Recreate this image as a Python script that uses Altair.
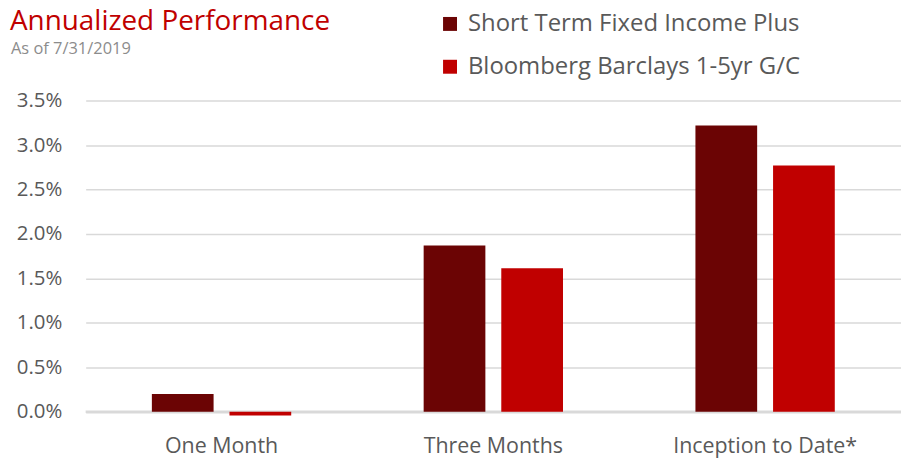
import altair as alt
import pandas as pd

categories = ["One Month", "Three Months", "Inception to Date*"]
series = ["Short Term Fixed Income Plus", "Bloomberg Barclays 1-5yr G/C"]
fund_values = [0.20, 1.87, 3.22]
bench_values = [-0.04, 1.615, 2.77]
colors = ["#6B0404", "#C00000"]
y_ticks = [0, 0.5, 1.0, 1.5, 2.0, 2.5, 3.0, 3.5]
title_text = "Annualized Performance"
subtitle_text = "As of 7/31/2019"

rows = []
for c, f, b in zip(categories, fund_values, bench_values):
    rows.append({"category": c, "series": series[0], "value": f / 100})
    rows.append({"category": c, "series": series[1], "value": b / 100})
df = pd.DataFrame(rows)

FONT = "Open Sans"
GRAY = "#595959"

base = alt.Chart(df)

bars = base.mark_bar().encode(
    x=alt.X("category:N", sort=categories, title=None,
            scale=alt.Scale(paddingInner=0, paddingOuter=0),
            axis=alt.Axis(domain=False, ticks=False, labelAngle=0, labelFontSize=21.5,
                          labelColor=GRAY, labelFont=FONT, labelPadding=18, labelLimit=400)),
    xOffset=alt.XOffset("series:N", sort=series,
                        scale=alt.Scale(paddingInner=0.205, paddingOuter=0.853)),
    y=alt.Y("value:Q", title=None,
            scale=alt.Scale(domain=[-0.0006, 0.035], nice=False, zero=False),
            axis=alt.Axis(values=[v / 100 for v in y_ticks], format=".1%", domain=False,
                          ticks=False, labelFontSize=20.5, labelColor=GRAY, labelFont=FONT,
                          labelPadding=24, gridColor="#D9D9D9", gridWidth=1.5)),
    color=alt.Color("series:N", sort=series,
                    scale=alt.Scale(domain=series, range=colors),
                    legend=alt.Legend(title=None, orient="none", legendX=354, legendY=-89,
                                      symbolType="square", symbolSize=196, symbolStrokeWidth=0,
                                      labelFontSize=24, labelColor=GRAY, labelFont=FONT,
                                      labelLimit=500, rowPadding=19, symbolOpacity=1,
                                      labelOffset=6)),
)

zero = alt.Chart(pd.DataFrame({"z": [0]})).mark_rule(color="#D9D9D9", strokeWidth=2.5).encode(y="z:Q")

title = alt.Chart(pd.DataFrame({"t": [title_text]})).mark_text(
    align="left", baseline="alphabetic", font=FONT, fontSize=28, color="#C00000"
).encode(text="t:N", x=alt.value(-76), y=alt.value(-71))

subtitle = alt.Chart(pd.DataFrame({"t": [subtitle_text]})).mark_text(
    align="left", baseline="alphabetic", font=FONT, fontSize=16.5, color="#8C8C8C"
).encode(text="t:N", x=alt.value(-75), y=alt.value(-47))

chart = alt.layer(zero, bars, title, subtitle).properties(
    width=819, height=318,
    padding={"left": 78, "top": 92, "right": 0, "bottom": 40},
    autosize=alt.AutoSizeParams(type="none"),
).configure_view(stroke=None)

chart.save("out.html", embed_options={"renderer": "svg", "actions": False})
